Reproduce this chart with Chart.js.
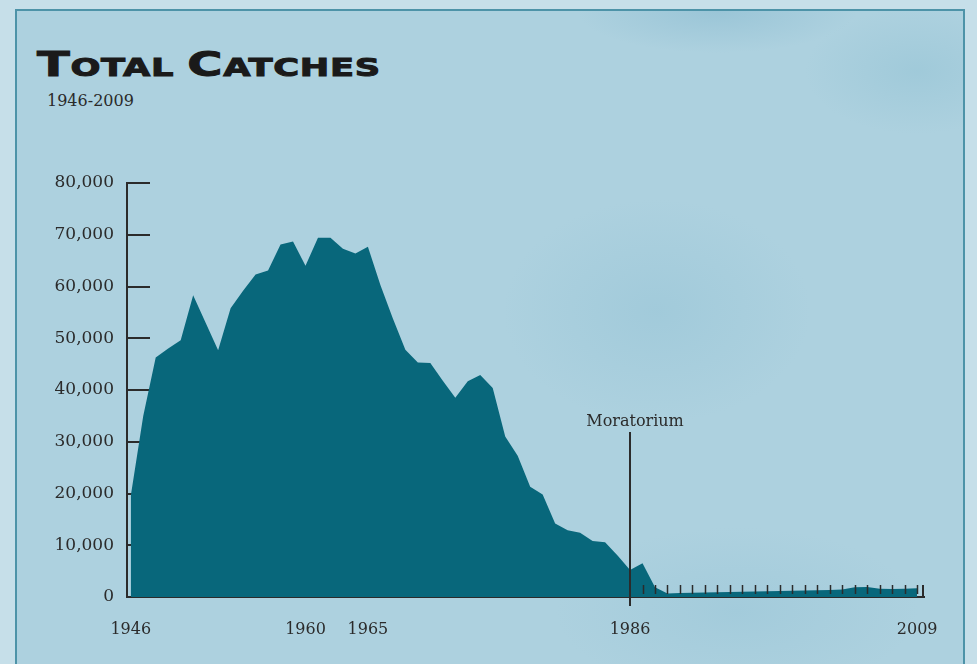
<!DOCTYPE html>
<html>
<head>
<meta charset="utf-8">
<title>Total Catches</title>
<script src="https://cdn.jsdelivr.net/npm/chart.js@4/dist/chart.umd.min.js"></script>
<style>
  html, body { margin: 0; padding: 0; }
  body {
    width: 977px; height: 664px; overflow: hidden; position: relative;
    background: #c6dfe9;
  }
  #panel {
    position: absolute; left: 15px; top: 9px; width: 946px; height: 700px;
    border: 2px solid #4d93a8;
    background:
      radial-gradient(ellipse 220px 160px at 640px 300px, rgba(140,190,210,0.35), rgba(140,190,210,0) 70%),
      radial-gradient(ellipse 160px 90px at 900px 60px, rgba(130,185,205,0.3), rgba(130,185,205,0) 70%),
      radial-gradient(ellipse 200px 60px at 700px 0px, rgba(120,175,200,0.35), rgba(120,175,200,0) 70%),
      radial-gradient(ellipse 260px 120px at 720px 600px, rgba(140,190,210,0.3), rgba(140,190,210,0) 70%),
      #add1df;
  }
  #title {
    position: absolute; left: 37px; top: 44px;
    font-family: "DejaVu Sans", sans-serif; font-weight: bold;
    color: #1a1a1a; white-space: nowrap;
    transform: scaleX(1.41); transform-origin: left top;
    letter-spacing: 0.5px;
    -webkit-text-stroke: 1px #1a1a1a;
  }
  #title .big { font-size: 34px; }
  #title .small { font-size: 25px; }
  #subtitle {
    position: absolute; left: 47px; top: 91px;
    font-family: "DejaVu Serif", serif; font-size: 16px; color: #2a2a2a;
  }
  canvas { position: absolute; left: 0; top: 0; }
</style>
</head>
<body>
<div id="panel"></div>
<div id="title"><span class="big">T</span><span class="small">OTAL </span><span class="big">C</span><span class="small">ATCHES</span></div>
<div id="subtitle">1946-2009</div>
<canvas id="chart" width="977" height="664"></canvas>
<script>
// total whale catches per year
const years = [
  1946, 1947, 1948, 1949, 1950, 1951, 1952, 1953, 1954, 1955,
  1956, 1957, 1958, 1959, 1960, 1961, 1962, 1963, 1964, 1965,
  1966, 1967, 1968, 1969, 1970, 1971, 1972, 1973, 1974, 1975,
  1976, 1977, 1978, 1979, 1980, 1981, 1982, 1983, 1984, 1985,
  1986, 1987, 1988, 1989, 1990, 1991, 1992, 1993, 1994, 1995,
  1996, 1997, 1998, 1999, 2000, 2001, 2002, 2003, 2004, 2005,
  2006, 2007, 2008, 2009
];
const catches = [
  19500, 35000, 46300, 48000, 49600, 58300, 53000, 47700, 55800, 59200,
  62300, 63100, 68100, 68700, 64000, 69400, 69400, 67300, 66400, 67700,
  60300, 53800, 47800, 45300, 45200, 41800, 38500, 41700, 42900, 40400,
  31000, 27300, 21300, 19800, 14200, 12900, 12400, 10800, 10600, 8000,
  5200, 6500, 1900, 700, 750, 800, 850, 900, 950, 1000,
  1050, 1100, 1150, 1200, 1250, 1300, 1350, 1450, 1900, 1950,
  1600, 1550, 1600, 1700
];
const xLabelYears = [1946, 1960, 1965, 1986, 2009];
const yTicks = [0, 10000, 20000, 30000, 40000, 50000, 60000, 70000, 80000];
const moratoriumYear = 1986;
const moratoriumLabel = "Moratorium";

const ink = "#2b2b2b";
const serif = "'DejaVu Serif', serif";

// little marks: y ticks pointing into the chart, year ticks after the moratorium
const decorations = {
  id: "decorations",
  beforeDatasetsDraw(chart) {
    const ctx = chart.ctx;
    const area = chart.chartArea;
    const y = chart.scales.y;
    ctx.save();
    ctx.strokeStyle = ink;
    ctx.lineWidth = 2;
    yTicks.forEach(v => {
      if (v === 0) return;
      const py = Math.round(y.getPixelForValue(v));
      ctx.beginPath();
      ctx.moveTo(area.left, py);
      ctx.lineTo(area.left + 23, py);
      ctx.stroke();
    });
    ctx.restore();
  },
  afterDatasetsDraw(chart) {
    const ctx = chart.ctx;
    const area = chart.chartArea;
    const x = chart.scales.x;
    ctx.save();
    ctx.strokeStyle = ink;

    // yearly ticks after the moratorium
    ctx.lineWidth = 1.5;
    years.filter(yr => yr > moratoriumYear).forEach(yr => {
      const px = Math.round(x.getPixelForValue(yr)) + 0.5;
      ctx.beginPath();
      ctx.moveTo(px, area.bottom - 3);
      ctx.lineTo(px, area.bottom - 12);
      ctx.stroke();
    });
    // closing tick at the end of the axis
    ctx.lineWidth = 2;
    ctx.beginPath();
    ctx.moveTo(area.right - 1, area.bottom);
    ctx.lineTo(area.right - 1, area.bottom - 12);
    ctx.stroke();

    // moratorium line
    const mx = Math.round(x.getPixelForValue(moratoriumYear));
    ctx.lineWidth = 2;
    ctx.beginPath();
    ctx.moveTo(mx, area.bottom - 165);
    ctx.lineTo(mx, area.bottom + 9);
    ctx.stroke();
    ctx.fillStyle = ink;
    ctx.font = "16px " + serif;
    ctx.textAlign = "center";
    ctx.textBaseline = "alphabetic";
    ctx.fillText(moratoriumLabel, mx + 5, area.bottom - 171);
    ctx.restore();
  }
};

new Chart(document.getElementById("chart"), {
  type: "line",
  data: {
    datasets: [{
      label: "Total catches",
      data: years.map((yr, i) => ({ x: yr, y: catches[i] })),
      backgroundColor: "#08677b",
      borderWidth: 0,
      pointRadius: 0,
      fill: "origin",
      tension: 0
    }]
  },
  options: {
    responsive: false,
    animation: false,
    layout: { padding: { left: 0, right: 53, top: 183, bottom: 0 } },
    plugins: {
      legend: { display: false },
      tooltip: { enabled: false }
    },
    scales: {
      x: {
        type: "linear",
        min: 1945.7,
        max: 2009.55,
        afterBuildTicks: scale => {
          scale.ticks = xLabelYears.map(v => ({ value: v }));
        },
        afterFit: scale => { scale.height = 67; },
        grid: { display: false, drawTicks: false },
        border: { display: true, color: ink, width: 2 },
        ticks: {
          autoSkip: false,
          maxRotation: 0,
          padding: 23,
          color: ink,
          font: { family: "DejaVu Serif", size: 16 },
          callback: v => String(v)
        }
      },
      y: {
        min: 0,
        max: 80000,
        afterBuildTicks: scale => {
          scale.ticks = yTicks.map(v => ({ value: v }));
        },
        afterFit: scale => { scale.width = 127; },
        grid: { display: false, drawTicks: false },
        border: { display: true, color: ink, width: 2 },
        ticks: {
          padding: 13,
          color: ink,
          font: { family: "DejaVu Serif", size: 17 },
          callback: v => v.toLocaleString("en-US")
        }
      }
    }
  },
  plugins: [decorations]
});
</script>
</body>
</html>
